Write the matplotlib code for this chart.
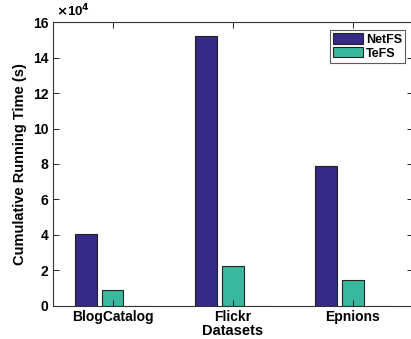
import matplotlib
matplotlib.use('Agg')
import matplotlib.pyplot as plt
import numpy as np
from matplotlib.ticker import FuncFormatter

datasets = ['BlogCatalog', 'Flickr', 'Epnions']
netfs = [40200, 152500, 78800]
tefs = [9000, 22500, 14500]
third = [40, 40, 40]  # unlabeled third series, near zero

plt.rcParams['font.family'] = ['Liberation Sans', 'DejaVu Sans']
plt.rcParams['font.weight'] = 'bold'

fig = plt.figure(figsize=(4.11, 3.39), dpi=100)
# right edge lies just beyond the image, as in the reference
ax = fig.add_axes([52.5 / 411, 1 - 305.7 / 339, (413 - 52.5) / 411, (305.7 - 22.3) / 339])

x = np.arange(1, len(datasets) + 1)
off = 0.2237
w = 0.18
ax.bar(x - off, netfs, w, color='#352A87', edgecolor='#222222', linewidth=0.8, label='NetFS')
ax.bar(x, tefs, w, color='#38B99E', edgecolor='#222222', linewidth=0.8, label='TeFS')
ax.bar(x + off, third, w, color='#F9FB0E', edgecolor='#444444', linewidth=0.8)

ax.set_xlim(0.5, 3.5)
ax.set_ylim(0, 16e4)
ax.set_xticks(x)
ax.set_xticklabels(datasets, fontsize=10, fontweight='bold')
ax.set_yticks(np.arange(0, 16.1e4, 2e4))
ax.yaxis.set_major_formatter(FuncFormatter(lambda v, p: '%d' % round(v / 1e4)))
for lab in ax.get_yticklabels():
    lab.set_fontweight('bold')
ax.tick_params(axis='both', direction='in', labelsize=10, length=4, width=0.6,
               top=True, right=True, pad=3)
for s in ax.spines.values():
    s.set_linewidth(0.8)
    s.set_color('#333333')

ax.set_xlabel('Datasets', fontsize=10.5, fontweight='bold', labelpad=0)
ax.set_ylabel('Cumulative Running Time (s)', fontsize=10.5, fontweight='bold', labelpad=4)
ax.text(0.01, 1.01, r'$\times$10$^4$', transform=ax.transAxes, fontsize=9.5,
        fontweight='bold', ha='left', va='bottom')

leg = ax.legend(loc='upper right', bbox_to_anchor=(0.978, 0.972),
                prop={'weight': 'bold', 'size': 9}, frameon=True, fancybox=False,
                handlelength=2.4, handleheight=0.9, handletextpad=0.25,
                borderpad=0.25, labelspacing=0.1, borderaxespad=0)
leg.get_frame().set_edgecolor('#333333')
leg.get_frame().set_linewidth(0.8)

fig.savefig('out.png', dpi=100)
